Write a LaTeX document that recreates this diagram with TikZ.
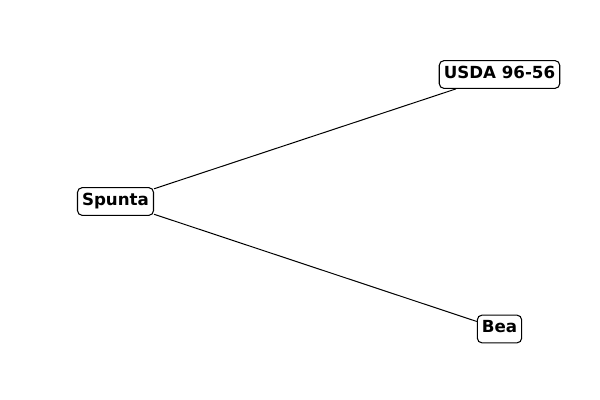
\documentclass[tikz,border=0pt]{standalone}
\usepackage{fontspec}
\setsansfont{DejaVu Sans}
\usepackage{tikz}

\tikzset{
  variety/.style={draw, rounded corners=3.5pt, line width=0.8pt, fill=white,
    inner xsep=3.4pt, inner ysep=5.2pt, text height=0.8em, text depth=0.24em,
    font=\sffamily\bfseries\fontsize{12.5}{14}\selectfont}
}

\begin{document}
\begin{tikzpicture}[x=0.75pt,y=0.75pt,yscale=-1]
\useasboundingbox (0,0) rectangle (600,400);

% Nodes
\node [variety] (spunta) at (115.5,201.5) {Spunta};
\node [variety] (usda) at (499.5,74.5) {USDA 96-56};
\node [variety] (bea) at (499.5,329) {Bea\hspace{0.5em}};

% Edges
\draw [line width=0.75pt] (spunta) -- (usda);
\draw [line width=0.75pt] (spunta) -- (bea);

\end{tikzpicture}
\end{document}
